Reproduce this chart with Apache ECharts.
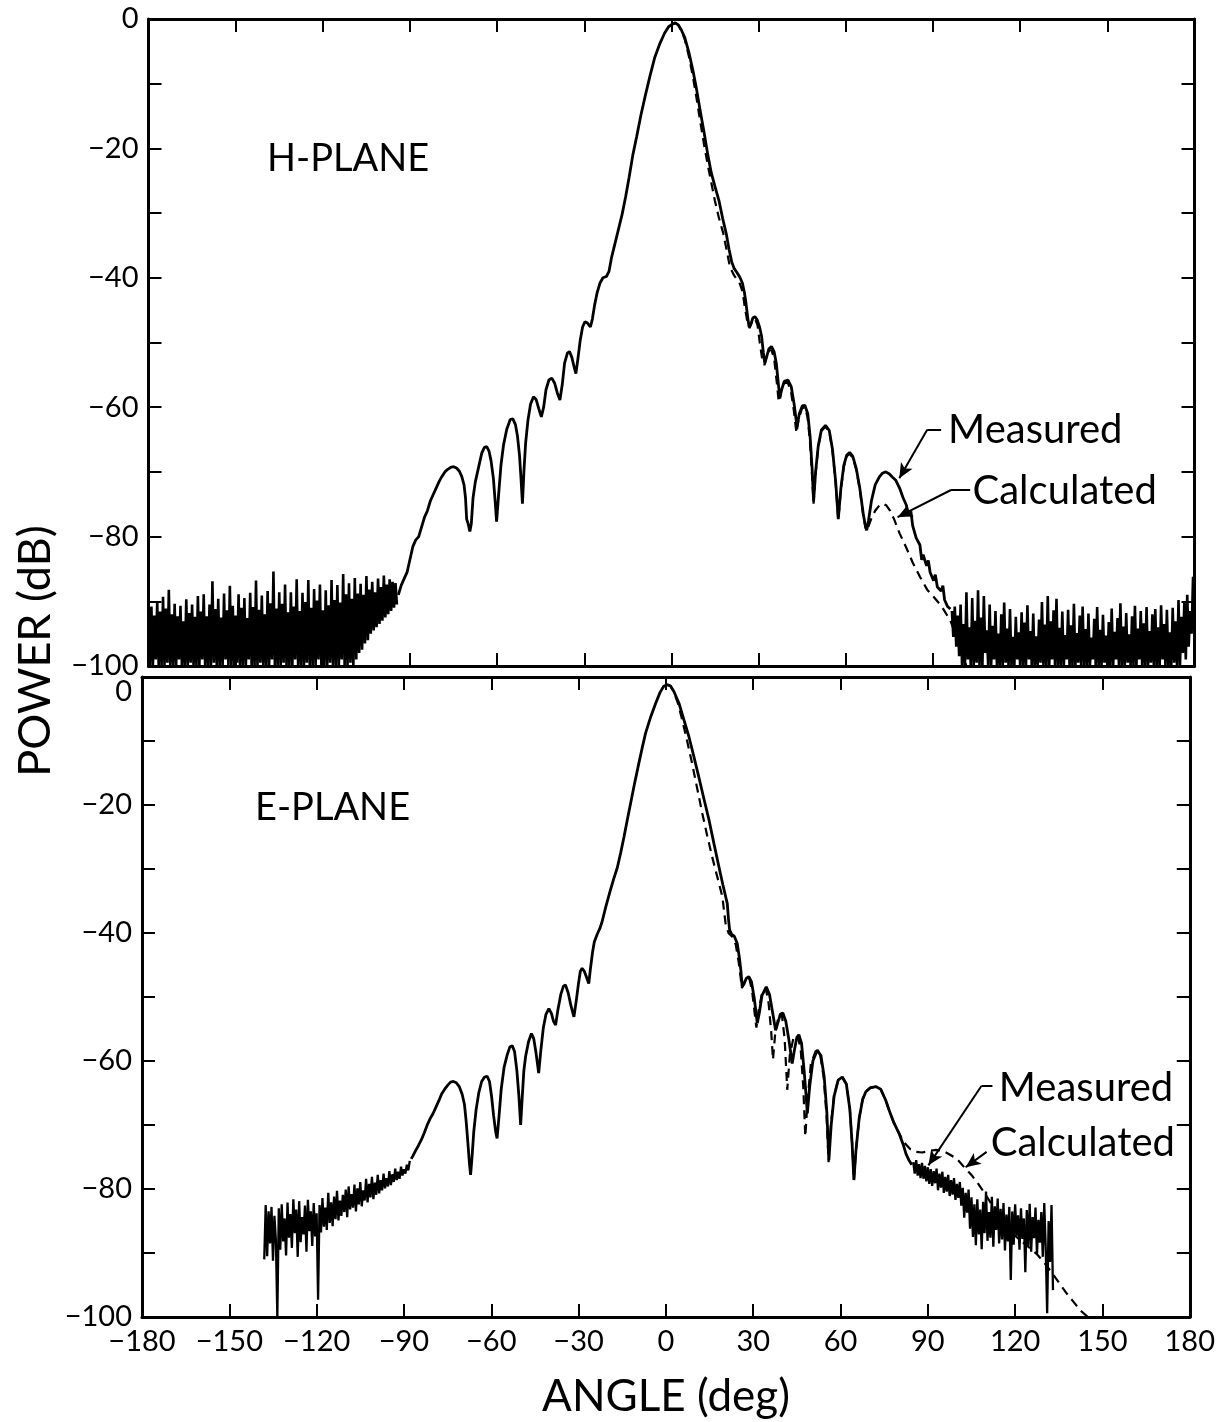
<!DOCTYPE html>
<html><head><meta charset="utf-8">
<script src="https://cdn.jsdelivr.net/npm/echarts@6/dist/echarts.min.js"></script>
<style>html,body{margin:0;padding:0;background:#fff}#c{width:1218px;height:1422px}</style>
</head><body><div id="c"></div>
<script>
// ---------------- DATA ----------------
const xTickValues = [-180,-150,-120,-90,-60,-30,0,30,60,90,120,150,180];
const yTickValues = [-100,-80,-60,-40,-20,0];
const noiseStep = 0.5;

// H-PLANE measured: noise floor on the left (start angle, values every 0.5 deg)
const hNoiseLeftStart = -180;
const hNoiseLeftDb = [
-89.5,-100,-90.8,-100,-92.2,-99,-90,-100,-91.6,-100,
-89.3,-100,-91.1,-99.5,-88.2,-100,-92.0,-100,-90.4,-100,
-92.3,-99,-90.7,-100,-93.1,-100,-89.7,-100,-91.8,-99.5,
-90.5,-100,-92.4,-100,-89.2,-100,-91.6,-99,-88.9,-100,
-92.3,-100,-90.5,-100,-86.9,-99.5,-91.2,-100,-89.6,-100,
-92.5,-100,-88.8,-99,-91.4,-100,-87.6,-100,-90.7,-100,
-92.2,-99.5,-88.9,-100,-91.0,-100,-89.5,-100,-92.6,-99,
-88.7,-100,-90.9,-100,-86.8,-100,-91.3,-99.5,-89.1,-100,
-92.0,-100,-88.4,-100,-90.3,-99,-85.4,-100,-91.1,-100,
-88.6,-100,-90.4,-99.5,-87.4,-100,-91.7,-100,-88.6,-100,
-90.8,-99,-86.6,-100,-91.5,-100,-88.7,-100,-90.1,-99.5,
-86.7,-100,-91.0,-100,-88.1,-100,-89.9,-99,-87.4,-100,
-91.4,-100,-88.3,-100,-90.6,-99.5,-86.7,-100,-89.8,-100,
-87.5,-100,-90.2,-99,-85.8,-100,-88.9,-100,-87.2,-99.5,
-89.6,-100,-86.4,-99,-88.8,-98,-87.3,-97.5,-89.0,-96.5,
-86.1,-96,-88.2,-95,-87.0,-94.5,-88.6,-94,-86.5,-93.5,
-87.8,-93,-86.0,-92.5,-87.4,-92,-86.6,-91.5,-87.0,-91,
-87.2,-90.5];

// H-PLANE measured: main lobe and side lobes [angle, dB]
const hMeasured = [
[-94,-89],[-93,-87.5],[-92,-86.5],[-91,-85.5],[-90,-83.5],[-89,-81.5],[-88,-80.5],[-87,-80],[-86,-78.5],[-85,-77],
[-84,-76],[-83,-74.5],[-82,-73.5],[-81,-72.5],[-80,-71.5],[-79,-70.7],[-78,-70],[-77,-69.6],[-76,-69.3],[-75,-69.2],
[-74,-69.4],[-73,-69.9],[-72.2,-70.7],[-71.4,-72],[-70.9,-74],[-70.5,-77.3],[-70,-78],[-69.4,-79.2],[-68.9,-78],[-68.3,-74],
[-67.5,-71.5],[-66.5,-69.5],[-65.3,-67.1],[-64.4,-66.2],[-63.6,-66.1],[-62.8,-66.8],[-62.1,-68.3],[-61.3,-71],[-60.7,-74.5],[-60.2,-77.7],
[-59.5,-73.5],[-58.7,-69],[-57.8,-65.8],[-56.7,-63.4],[-55.5,-61.9],[-54.6,-61.8],[-53.7,-62.7],[-53,-64.5],[-52.3,-67.5],[-51.8,-71],
[-51.3,-74.9],[-50.8,-70],[-50.2,-65.5],[-49.4,-62],[-48.5,-59.5],[-47.5,-58.4],[-46.6,-58.8],[-45.7,-60.2],[-44.8,-61.5],[-44,-60],
[-43.2,-57.3],[-42.2,-55.8],[-41.2,-55.5],[-40.2,-56.3],[-39.3,-57.8],[-38.4,-58.9],[-37.6,-56.5],[-36.8,-53.2],[-35.8,-51.6],[-35.1,-51.4],
[-34.3,-52.3],[-33.5,-53.8],[-32.9,-54.8],[-32.2,-52.5],[-31.4,-49.6],[-30.6,-47.6],[-29.8,-46.8],[-28.9,-47],[-27.9,-47.6],[-27.2,-46.3],
[-26.5,-44.3],[-25.6,-42.3],[-24.6,-40.8],[-23.6,-40],[-22.4,-39.8],[-21.5,-39],[-20.6,-36.8],[-19.5,-34.8],[-18.3,-32.6],[-17,-30.2],
[-15.8,-27.5],[-14.6,-24.5],[-13.3,-21],[-12,-18.2],[-10.5,-14.8],[-9,-11.8],[-7.4,-8.8],[-5.8,-6],[-4,-3.8],[-2.4,-2.2],
[-1,-1.2],[0.3,-0.8],[1.3,-0.6],[2.3,-0.9],[3.4,-1.7],[4.6,-2.9],[6,-5.2],[7.4,-8],[8.6,-10.8],[9.8,-14],
[11.2,-17.5],[12.5,-21],[13.7,-23.8],[14.9,-25.8],[16.4,-28.2],[17.6,-30.8],[18.9,-33.3],[19.8,-35.6],[20.7,-37.5],[21.5,-38.5],
[22.4,-39.1],[23.4,-39.8],[24.4,-40.8],[25.1,-42.3],[25.6,-43.8],[26.2,-46],[26.7,-47.6],[27.3,-47.2],[28,-46.2],[28.7,-46],
[29.5,-46.5],[30.3,-47.6],[31,-49],[31.6,-51.5],[32.1,-53.2],[32.7,-52.3],[33.5,-51],[34.4,-50.6],[35.3,-51.4],[36.1,-53.3],
[36.8,-56.5],[37.3,-58.6],[37.9,-57.3],[38.8,-56],[40.1,-55.8],[41.2,-56.8],[42.2,-59.5],[43.2,-63],[44,-61],[45,-59.8],
[45.9,-59.7],[46.9,-61],[47.7,-64.5],[48.4,-69.5],[48.9,-74.6],[49.6,-70],[50.5,-66],[51.6,-63.5],[53,-62.8],[54.3,-63.6],
[55.4,-66.5],[56.5,-71.5],[57.4,-77.3],[58.3,-72.5],[59.3,-69],[60.3,-67.4],[61.3,-67],[62.4,-67.6],[63.6,-69.5],[64.8,-72.5],
[66,-76.5],[66.8,-78.5],[67.2,-79],[67.8,-77.5],[68.8,-74.5],[70.1,-72],[71.5,-70.8],[72.6,-70.2],[73.7,-70],[74.9,-70.3],
[76,-70.8],[77.2,-71.3],[78.5,-72.5],[79.7,-74],[80.7,-75],[81.8,-76.8],[82.4,-76.1],[83,-78.3],[84.2,-80.2],[85.5,-81.3],
[86.1,-83.6],[86.6,-82.8],[87.8,-84.5],[88.4,-83.7],[89,-85.5],[90.2,-86.8],[90.8,-85.9],[91.5,-87.8],[92.8,-88.4],[93.4,-87.6],
[94,-89.8],[95,-90.8],[96,-91.2]];

// H-PLANE measured: noise floor on the right
const hNoiseRightStart = 96.5;
const hNoiseRightDb = [
-91.5,-95.5,-90.8,-97,-92.2,-98.5,-90.5,-100,-93.5,-100,
-88.6,-99,-94,-100,-89.5,-100,-93,-99.5,-88.3,-100,
-92.5,-100,-89.2,-98,-94.5,-100,-90.5,-100,-93.8,-99,
-91.5,-100,-95,-100,-92,-100,-90.2,-99.5,-94.2,-100,
-91.2,-100,-95.5,-100,-92.4,-99,-94.8,-100,-91.7,-100,
-93.3,-100,-90.6,-99,-94.6,-100,-91.9,-100,-95.4,-100,
-92.8,-99.5,-90.1,-100,-93.6,-100,-89.2,-100,-93.1,-99,
-91.4,-100,-89.6,-100,-94.1,-100,-91.6,-100,-95.2,-99,
-91.3,-100,-93.7,-100,-90.4,-100,-94.9,-99.5,-92.2,-100,
-90.8,-100,-94.3,-100,-91.9,-100,-95.6,-99,-92.7,-100,
-90.9,-100,-94.4,-100,-92.1,-99.5,-95.3,-100,-93.2,-100,
-91.1,-100,-94.7,-99,-92.6,-100,-90.3,-100,-93.9,-100,
-91.8,-99.5,-95.1,-100,-92.3,-100,-90.7,-100,-94.2,-99,
-91.5,-100,-93.4,-100,-90.9,-100,-94.6,-99.5,-92.0,-100,
-91.2,-100,-94.0,-100,-90.6,-99,-93.5,-100,-91.3,-100,
-94.8,-100,-91.0,-99.5,-93.1,-100,-89.8,-100,-92.4,-98,
-90.2,-99,-89.0,-97,-91.5,-95,-86.2,-88.5];

// H-PLANE calculated [angle, dB]
const hCalculated = [
[1.3,-0.6],[2.3,-0.9],[3.4,-1.8],[4.6,-3.2],[6,-5.8],[7.4,-9],[8.6,-12.2],[9.8,-15.6],[11.2,-19.4],[12.5,-22.6],
[13.7,-25.3],[14.9,-28],[16.3,-30.7],[17.8,-33.1],[19,-35.8],[20.1,-38.3],[21.5,-39.6],[23.5,-40.9],[24.5,-42.2],[25.2,-44.5],
[26,-46.5],[26.9,-47.8],[27.8,-46.6],[28.7,-46.3],[29.6,-47.3],[30.4,-50.1],[31.2,-52.5],[32,-53.5],[32.8,-52],[33.6,-51.2],
[34.4,-51.2],[35.3,-52.4],[36.2,-56],[36.9,-59.2],[37.7,-57.5],[38.8,-56.3],[40,-56.2],[41.1,-57.5],[42.1,-60.5],[43,-64],
[43.8,-61.8],[44.9,-60.2],[45.9,-60],[46.8,-61.5],[47.6,-65],[48.3,-70],[48.9,-74.9],[49.6,-70.2],[50.5,-66.2],[51.6,-63.7],
[53,-63],[54.3,-63.8],[55.4,-66.7],[56.5,-71.7],[57.4,-77.5],[58.3,-72.7],[59.3,-69.2],[60.3,-67.6],[61.3,-67.2],[62.4,-67.8],
[63.6,-69.7],[64.8,-72.7],[66,-76.7],[66.8,-78.7],[67.2,-79.2],[67.8,-78.4],[68.8,-77.2],[70.1,-76],[71.5,-75.2],[72.8,-74.9],
[74,-75.2],[75.2,-76],[76.6,-77.3],[78.5,-79.5],[80.7,-81.6],[83,-84],[85.5,-86.2],[88,-88.2],[90.2,-89.3],[93,-90.8],
[96,-93],[99,-96.5],[101.5,-100]];

// E-PLANE measured: noisy part on the left
const eNoiseLeftStart = -138;
const eNoiseLeftDb = [
-91,-82.5,-90.5,-83.5,-88.5,-82.8,-91.2,-84.2,-88,-100,
-83,-89.5,-82.4,-88.2,-84.6,-90.4,-82.1,-87.6,-83.9,-89.2,
-81.6,-86.9,-83.2,-90.6,-81.9,-88.3,-84.4,-87.1,-82.6,-89.8,
-81.7,-86.6,-83.5,-88.9,-82.2,-87.4,-83.8,-97.3,-82.5,-86.8,
-81.4,-85.9,-82.9,-86.4,-80.6,-85.3,-82.1,-85.8,-81.2,-84.7,
-80.3,-84.9,-81.8,-84.2,-80.9,-83.6,-80.1,-84.4,-79.6,-83.2,
-80.8,-82.9,-79.3,-83.5,-79.9,-82.4,-78.9,-82.7,-80.2,-81.8,
-78.4,-82.1,-79.2,-81.3,-78.1,-81.6,-79.0,-80.9,-77.8,-80.7,
-78.6,-80.2,-77.6,-79.9,-78.3,-79.6,-77.2,-79.4,-77.7,-78.9,
-76.8,-78.6,-77.3,-78.4,-76.5,-77.9,-76.9,-77.6,-76.2,-77.1,
-75.6];

// E-PLANE measured: main lobe and side lobes [angle, dB]
const eMeasured = [
[-87.5,-75.3],[-87,-74.9],[-86,-74],[-85,-73.2],[-84,-72.3],[-83,-71.2],[-82,-70],[-81,-69],[-80,-68.2],[-79,-67.2],
[-78,-66.2],[-77,-65.1],[-76,-64.4],[-75,-63.8],[-74,-63.3],[-73,-63.2],[-72,-63.4],[-71,-64],[-70,-65.2],[-69.2,-66.8],
[-68.6,-69.5],[-68,-73],[-67.5,-76],[-67.1,-77.8],[-66.6,-75],[-66,-71],[-65.2,-67.6],[-64.3,-65],[-63.3,-63.2],[-62.3,-62.5],
[-61.4,-62.4],[-60.6,-63.2],[-59.9,-65.5],[-59.2,-68.5],[-58.5,-71],[-58,-72.1],[-57.4,-69],[-56.6,-64.5],[-55.6,-61],[-54.5,-59],
[-53.6,-57.8],[-52.8,-57.6],[-52,-58.5],[-51.2,-61.5],[-50.5,-65.5],[-49.9,-70],[-49.4,-66],[-48.8,-61.5],[-48.2,-59.3],[-47.2,-57],
[-46.2,-55.7],[-45.4,-56.5],[-44.6,-58.8],[-43.7,-61.9],[-43,-58.5],[-42.1,-54.8],[-41.2,-52.7],[-40.2,-51.8],[-39.3,-52.6],[-38.6,-53.8],
[-37.9,-54.4],[-37.1,-52],[-36.1,-49.6],[-35.2,-48.3],[-34.5,-48.1],[-33.6,-49.3],[-32.6,-51.4],[-31.6,-53.1],[-30.8,-50.6],[-30,-47.8],
[-29.4,-46],[-28.8,-45.5],[-28,-46],[-27.2,-47],[-26.5,-47.9],[-25.9,-45.5],[-25.2,-43],[-24.6,-41.4],[-23.6,-40.2],[-22.6,-39.2],
[-21.9,-38.2],[-20.7,-36],[-19,-33.2],[-17.9,-31.5],[-16.7,-29.8],[-15.5,-27.4],[-14.4,-25],[-13.2,-22.2],[-12.1,-19.7],[-10.7,-16.5],
[-9.3,-13.5],[-8.1,-11],[-7,-8.8],[-5.2,-6.2],[-3.5,-4.1],[-2,-2.4],[-0.8,-1.5],[0.4,-1.2],[1.6,-1.4],[2.8,-2.3],
[4.5,-4.1],[6.2,-6.7],[7.9,-9.3],[9.6,-12.4],[11.3,-15.6],[13,-18.9],[14.8,-22.3],[16.5,-26],[18.2,-29.6],[19.6,-32.5],
[21.1,-35.4],[21.5,-37.8],[21.9,-39.5],[22.6,-40.2],[23.5,-40.5],[24.5,-41.6],[25.3,-44],[25.8,-46],[26.2,-48.4],[26.8,-48],
[27.6,-47.1],[28.5,-46.8],[29.4,-47.6],[30.3,-50],[31,-52.5],[31.4,-54.1],[32.1,-52.5],[33,-49.8],[34.5,-48.4],[35.6,-49.6],
[36.7,-52.5],[37.7,-55.2],[38.5,-54],[39.3,-52.7],[40.2,-52.5],[41.2,-53.8],[42.3,-56.8],[43.4,-60.4],[44.2,-58.2],[45,-56.3],
[45.7,-55.9],[46.6,-57.2],[47.5,-61.5],[48.1,-65],[48.6,-68.2],[49.4,-64],[50.5,-60],[52,-58.3],[53.3,-59.2],[54.4,-62.5],
[55.3,-68],[56,-75.5],[56.8,-70],[57.8,-65.5],[59.2,-63],[60.6,-62.5],[62,-63.6],[63.2,-67.5],[64,-73],[64.6,-78.6],
[65.3,-74],[66.4,-69],[67.6,-66],[68.7,-64.8],[70.2,-64.2],[72.1,-64],[73.8,-64.4],[75.5,-66.1],[76.8,-67.8],[78.2,-69.5],
[80.1,-71.3],[81.5,-73],[82.5,-74.5],[83.5,-75.5],[84.5,-76.2]];

// E-PLANE measured: noisy part on the right
const eNoiseRightStart = 85;
const eNoiseRightDb = [
-75.8,-77.6,-75.5,-77.9,-76.1,-78.3,-75.9,-78.4,-76.4,-78.8,
-76.6,-79.2,-76.9,-79.5,-77.2,-79.1,-76.8,-80.2,-77.6,-79.8,
-77.3,-80.6,-78.1,-80.4,-77.8,-81.1,-78.6,-80.9,-78.3,-81.7,
-79.2,-81.4,-78.9,-82.6,-79.8,-84.5,-80.6,-83.7,-80.1,-86.2,
-81.3,-87.5,-82.4,-88.8,-81.6,-87.1,-83.2,-89.4,-82.0,-86.9,
-80.4,-88.1,-83.6,-87.6,-81.2,-89.0,-82.7,-86.4,-81.5,-88.5,
-83.1,-87.9,-82.2,-89.6,-84.0,-88.2,-82.8,-94.2,-83.5,-88.7,
-82.4,-87.3,-84.1,-89.5,-83.0,-87.8,-84.6,-93.0,-83.3,-88.9,
-82.3,-89.8,-84.4,-87.7,-82.9,-90.2,-84.8,-88.4,-83.6,-90.6,
-82.2,-89.2,-99.4,-85.0,-91.4,-82.5,-95.8];

// E-PLANE calculated [angle, dB]
const eCalculated = [
[0.4,-1.2],[1.6,-1.4],[2.8,-2.4],[4.2,-4.2],[5.6,-6.7],[7.3,-10],[9,-13.5],[10.8,-17.5],[12.5,-21.3],[14.2,-24.8],
[15.9,-28.1],[17.7,-31.3],[19.4,-34.3],[20.5,-38.5],[21.5,-40],[22.8,-40.6],[24,-41.8],[25,-44.5],[25.7,-47],[26.1,-48.6],
[26.8,-47.8],[27.8,-46.9],[28.7,-47.2],[29.6,-49],[30.5,-52.5],[31.1,-54.8],[31.8,-52.3],[33,-49.5],[34.3,-48.6],[35.3,-51],
[36.2,-55.5],[36.8,-59.8],[37.5,-56],[38.6,-53.2],[39.8,-52.6],[40.8,-56.5],[41.7,-64.5],[42.6,-59],[43.8,-56.5],[45.2,-56],
[46.3,-58],[47.2,-64],[47.9,-71.8],[48.7,-66],[49.8,-60.5],[51.5,-58.4],[53,-59],[54.2,-62.5],[55.2,-68.5],[55.9,-75.8],
[56.7,-70],[57.8,-65.3],[59.2,-63],[60.6,-62.5],[62,-63.6],[63.2,-67.5],[64,-73],[64.6,-78.6],[65.3,-74],[66.4,-69],
[67.6,-66],[68.7,-64.8],[70.2,-64.2],[72.1,-64],[73.8,-64.4],[75.5,-66.1],[76.8,-67.8],[78.2,-69.5],[80.1,-71.3],[82,-72.8],
[84,-73.8],[86,-74.2],[88,-74.3],[90,-74.1],[92.5,-73.9],[95,-74],[97.5,-74.6],[100,-75.3],[102.5,-76.6],[105,-77.8],
[107.5,-79.3],[110,-81],[112.5,-82.8],[115,-84.5],[117.5,-86],[120,-87.3],[122.5,-88.3],[125,-89.2],[127.5,-90.2],[130,-91.5],
[132.5,-93],[135,-94.6],[137.5,-96.2],[140,-97.6],[142.5,-99],[145,-100]];

// annotation anchors (data coordinates)
const hMeasuredPointer = [[92.8,-63.5],[88.0,-63.5],[78.4,-71.0]];
const hCalculatedPointer = [[102.8,-72.8],[96.2,-72.8],[77.8,-77.0]];
const eMeasuredPointer = [[112.2,-63.9],[108.4,-63.9],[90.2,-76.3]];
const eCalculatedPointer = [[110.2,-74.2],[110.2,-74.2],[103.0,-76.6]];
const hLabels = {measured:[95.2,-63.6], calculated:[103.6,-72.9]};
const eLabels = {measured:[114.4,-64.2], calculated:[111.6,-72.8]};

// ---------------- CHART ----------------
const FONT = 'Lato, "Noto Sans", sans-serif';
const fmt = v => v < 0 ? '\u2212' + Math.abs(v) : String(v);
const seq = (start, vals) => vals.map((v, i) => [start + i * noiseStep, v]);

const axisLineStyle = {color:'#000', width:3};
const tickStyle = {color:'#000', width:2};

function xAx(grid, pos, labels) {
  return {type:'value', gridIndex:grid, position:pos, min:xTickValues[0], max:xTickValues[xTickValues.length-1], interval:30,
    axisLine:{show:true, onZero:false, lineStyle:axisLineStyle},
    axisTick:{show:true, inside:true, length:13, lineStyle:tickStyle},
    axisLabel:{show:labels, formatter:fmt, fontFamily:FONT, fontSize:29, color:'#000', margin:10},
    splitLine:{show:false}};
}
function yAx(grid, pos, labels, extra) {
  return Object.assign({type:'value', gridIndex:grid, position:pos, min:yTickValues[0], max:yTickValues[yTickValues.length-1], interval:10,
    axisLine:{show:true, onZero:false, lineStyle:axisLineStyle},
    axisTick:{show:true, inside:true, length:13, lineStyle:tickStyle},
    axisLabel:Object.assign({show:labels, formatter:v => yTickValues.indexOf(v) >= 0 ? fmt(v) : '', fontFamily:FONT, fontSize:29, color:'#000', margin:10}, extra||{}),
    splitLine:{show:false}});
}

function pointerLines(p) {
  return [
    [{coord:p[0], symbol:'none'}, {coord:p[1], symbol:'none'}],
    [{coord:p[1], symbol:'none'}, {coord:p[2], symbol:'arrow', symbolSize:[10,15]}]
  ];
}
const pointerMark = (a, b) => ({silent:true, animation:false, symbol:['none','arrow'], label:{show:false},
  lineStyle:{color:'#000', width:2, type:'solid'}, emphasis:{disabled:true},
  data:pointerLines(a).concat(pointerLines(b))});

const solid = w => ({color:'#000', width:w, type:'solid'});
const dashed = {color:'#000', width:2.2, type:[9,6]};
const base = {type:'line', showSymbol:false, symbol:'none', animation:false, silent:true, z:3};

const chart = echarts.init(document.getElementById('c'), null, {renderer:'canvas'});
chart.setOption({
  backgroundColor:'#fff',
  animation:false,
  grid:[
    {left:148.5, top:19, width:1046, height:647},
    {left:142, top:677, width:1048, height:640}
  ],
  xAxis:[xAx(0,'bottom',false), xAx(0,'top',false), xAx(1,'bottom',true), xAx(1,'top',false)],
  yAxis:[yAx(0,'left',true), yAx(0,'right',false),
         yAx(1,'left',true,{verticalAlignMaxLabel:'top'}), yAx(1,'right',false)],
  series:[
    Object.assign({}, base, {name:'H calc', xAxisIndex:0, yAxisIndex:0, data:hCalculated, lineStyle:dashed, z:2}),
    Object.assign({}, base, {name:'H noise L', xAxisIndex:0, yAxisIndex:0, data:seq(hNoiseLeftStart,hNoiseLeftDb), lineStyle:solid(2.6)}),
    Object.assign({}, base, {name:'H meas', xAxisIndex:0, yAxisIndex:0, data:hMeasured, lineStyle:solid(2.8),
      markLine:pointerMark(hMeasuredPointer, hCalculatedPointer)}),
    Object.assign({}, base, {name:'H noise R', xAxisIndex:0, yAxisIndex:0, data:seq(hNoiseRightStart,hNoiseRightDb), lineStyle:solid(2.6)}),
    Object.assign({}, base, {name:'E calc', xAxisIndex:2, yAxisIndex:2, data:eCalculated, lineStyle:dashed, z:2}),
    Object.assign({}, base, {name:'E noise L', xAxisIndex:2, yAxisIndex:2, data:seq(eNoiseLeftStart,eNoiseLeftDb), lineStyle:solid(2.3)}),
    Object.assign({}, base, {name:'E meas', xAxisIndex:2, yAxisIndex:2, data:eMeasured, lineStyle:solid(2.8),
      markLine:pointerMark(eMeasuredPointer, eCalculatedPointer)}),
    Object.assign({}, base, {name:'E noise R', xAxisIndex:2, yAxisIndex:2, data:seq(eNoiseRightStart,eNoiseRightDb), lineStyle:solid(2.3)})
  ]
});

function txt(pos, text, size, align, rot) {
  return {type:'text', x:pos[0], y:pos[1], rotation:rot||0, silent:true,
    style:{text:text, fontFamily:FONT, fontSize:size, fill:'#000',
      align:align||'left', verticalAlign:'middle', textAlign:align||'left', textVerticalAlign:'middle'}};
}
const toPx = (g, p) => chart.convertToPixel({xAxisIndex:g*2, yAxisIndex:g*2}, p);
chart.setOption({graphic:[
  txt([35, 651], 'POWER (dB)', 45, 'center', Math.PI/2),
  txt([666, 1397], 'ANGLE (deg)', 44, 'center'),
  txt([267, 159], 'H-PLANE', 38, 'left'),
  txt([255, 808], 'E-PLANE', 38, 'left'),
  txt(toPx(0, hLabels.measured), 'Measured', 40, 'left'),
  txt(toPx(0, hLabels.calculated), 'Calculated', 40, 'left'),
  txt(toPx(1, eLabels.measured), 'Measured', 40, 'left'),
  txt(toPx(1, eLabels.calculated), 'Calculated', 40, 'left')
]});
</script></body></html>
